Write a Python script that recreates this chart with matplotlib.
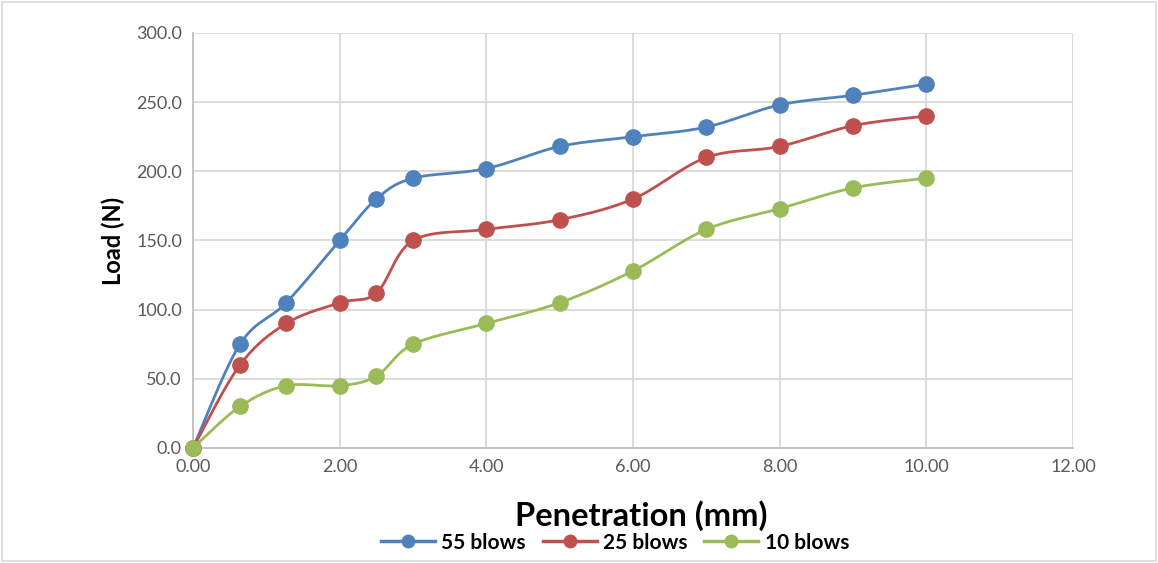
import numpy as np
import matplotlib.pyplot as plt
from matplotlib.patches import Rectangle

# ---------------------------------------------------------
# data
# ---------------------------------------------------------

penetration = [0.0, 0.64, 1.27, 2.0, 2.5, 3.0, 4.0, 5.0, 6.0, 7.0, 8.0, 9.0, 10.0]

load_55 = [0, 75, 105, 150, 180, 195, 202, 218, 225, 232, 248, 255, 263]
load_25 = [0, 60, 90, 105, 112, 150, 158, 165, 180, 210, 218, 233, 240]
load_10 = [0, 30, 45, 45, 52, 75, 90, 105, 128, 158, 173, 188, 195]

series_names = ["55 blows", "25 blows", "10 blows"]
series_colors = ["#4F81BD", "#C0504D", "#9BBB59"]

x_ticks = np.arange(0, 12.01, 2)
y_ticks = np.arange(0, 300.01, 50)


# ---------------------------------------------------------
# excel-like smoothing (catmull-rom bezier)
# ---------------------------------------------------------

def smooth_curve(x, y, steps=30):
    x = np.asarray(x, float)
    y = np.asarray(y, float)
    px = np.concatenate([[x[0]], x, [x[-1]]])
    py = np.concatenate([[y[0]], y, [y[-1]]])
    xs, ys = [], []
    t = np.linspace(0, 1, steps)
    for i in range(1, len(px) - 2):
        p0 = np.array([px[i], py[i]])
        p3 = np.array([px[i + 1], py[i + 1]])
        c1 = p0 + (p3 - np.array([px[i - 1], py[i - 1]])) / 6
        c2 = p3 - (np.array([px[i + 2], py[i + 2]]) - p0) / 6
        b = ((1 - t) ** 3)[:, None] * p0 + (3 * (1 - t) ** 2 * t)[:, None] * c1 \
            + (3 * (1 - t) * t ** 2)[:, None] * c2 + (t ** 3)[:, None] * p3
        xs.extend(b[:, 0])
        ys.extend(b[:, 1])
    return np.array(xs), np.array(ys)


# ---------------------------------------------------------
# plot
# ---------------------------------------------------------

plt.rcParams["font.family"] = ["Lato", "DejaVu Sans"]

fig = plt.figure(figsize=(11.58, 5.63), dpi=100)
ax = fig.add_axes([0.1667, 0.2043, 0.7599, 0.7371])

handles = []
for ys, name, col in zip([load_55, load_25, load_10], series_names, series_colors):
    sx, sy = smooth_curve(penetration, ys)
    ax.plot(sx, sy, color=col, lw=2.0, zorder=3)
    ax.plot(penetration, ys, "o", color=col, ms=11, zorder=4, clip_on=False)
    h, = ax.plot([], [], "-o", color=col, lw=2.5, ms=9, label=name)
    handles.append(h)

ax.set_xlim(0, 12)
ax.set_ylim(0, 300)
ax.set_xticks(x_ticks)
ax.set_yticks(y_ticks)
ax.set_xticklabels([f"{v:.2f}" for v in x_ticks])
ax.set_yticklabels([f"{v:.1f}" for v in y_ticks])
ax.tick_params(length=0, labelsize=13, labelcolor="#595959", pad=8)
ax.grid(True, color="#D9D9D9", lw=1.3)
ax.set_axisbelow(True)

for s in ["top", "right"]:
    ax.spines[s].set_visible(False)
for s in ["left", "bottom"]:
    ax.spines[s].set_color("#BFBFBF")
    ax.spines[s].set_linewidth(1.3)

fig.text(0.554, 0.085, "Penetration (mm)", fontsize=23.5, fontweight="bold",
         ha="center", va="center")
ax.set_ylabel("Load (N)", fontsize=17, fontweight="bold", labelpad=8)

fig.legend(handles=handles, loc="center", bbox_to_anchor=(0.531, 0.036), ncol=3,
           frameon=False, prop={"weight": "bold", "size": 15},
           handlelength=2.6, columnspacing=0.8, handletextpad=0.3)

fig.patches.append(Rectangle((0.002, 0.003), 0.996, 0.994, transform=fig.transFigure,
                             fill=False, edgecolor="#D9D9D9", lw=1.2))

fig.savefig("out.png", dpi=100)
